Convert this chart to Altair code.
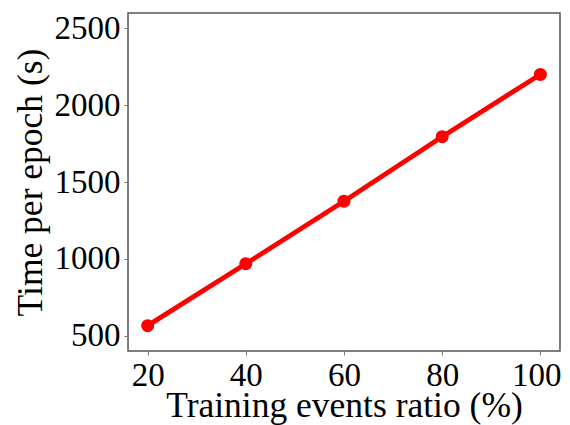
import altair as alt
import pandas as pd

ratio = [20, 40, 60, 80, 100]
time_per_epoch = [565, 968, 1375, 1795, 2200]

df = pd.DataFrame({"ratio": ratio, "time": time_per_epoch})

x = alt.X("ratio:Q", scale=alt.Scale(domain=[16, 104], nice=False, zero=False),
          axis=alt.Axis(values=[20, 40, 60, 80, 100], format="d",
                        title="Training events ratio (%)",
                        titleBaseline="alphabetic", titleY=65,
                        labelOffset={"condition": {"test": "datum.value == 100", "value": -4}, "value": 0}))
y = alt.Y("time:Q", scale=alt.Scale(domain=[400, 2600], nice=False, zero=False),
          axis=alt.Axis(values=[500, 1000, 1500, 2000, 2500], format="d",
                        title="Time per epoch (s)",
                        titleBaseline="alphabetic", titleX=-87))

base = alt.Chart(df).encode(x=x, y=y)
line = base.mark_line(color="#ff0000", strokeWidth=4.8)
pts = base.mark_circle(color="#ff0000", size=170, opacity=1)

FONT = "Liberation Serif"

chart = (line + pts).properties(
    width=432, height=338,
    autosize=alt.AutoSizeParams(type="none"),
    padding={"left": 120, "top": 5, "right": 2, "bottom": 74},
).configure_view(
    stroke="#555555", strokeWidth=1.5
).configure_axis(
    grid=False, domain=False,
    tickColor="#777777", tickSize=4, tickWidth=1,
    labelFont=FONT, labelFontSize=33, labelColor="black",
    titleFont=FONT, titleFontSize=35.5, titleColor="black",
    titleFontWeight="normal", labelPadding=4,
)

chart.save("out.html", embed_options={"renderer": "svg", "actions": False})
